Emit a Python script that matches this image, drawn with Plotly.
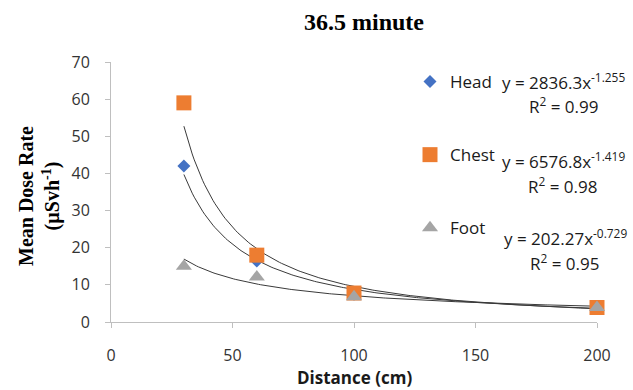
import numpy as np
import plotly.graph_objects as go

# ---- data ----
distance = [30, 60, 100, 200]
head = [42, 16.4, 7.5, 4.0]
chest = [59, 18.0, 7.8, 3.9]
foot = [15, 12.1, 6.8, 3.9]

series_names = ["Head", "Chest", "Foot"]
fit_a = [2836.3, 6576.8, 202.27]
fit_b = [-1.255, -1.419, -0.729]
fit_r2 = ["0.99", "0.98", "0.95"]
fit_a_txt = ["2836.3", "6576.8", "202.27"]
fit_b_txt = ["-1.255", "-1.419", "-0.729"]

x_ticks = [0, 50, 100, 150, 200]
y_ticks = [0, 10, 20, 30, 40, 50, 60, 70]

colors = ["#4472C4", "#ED7D31", "#A5A5A5"]
symbols = ["diamond", "square", "triangle-up"]
sizes = [10, 15, 14]
values = [head, chest, foot]

FONT = "Open Sans"
SERIF = "Liberation Serif"

fig = go.Figure()

# trendlines
xfit = np.linspace(min(distance), max(distance), 200)
for a, b in zip(fit_a, fit_b):
    fig.add_trace(go.Scatter(
        x=xfit, y=a * xfit ** b, mode="lines",
        line=dict(color="#3a3a3a", width=1), showlegend=False, hoverinfo="skip"))

for name, vals, c, s, sz in zip(series_names, values, colors, symbols, sizes):
    fig.add_trace(go.Scatter(
        x=distance, y=vals, mode="markers", name=name, legendgroup=name,
        marker=dict(color=c, symbol=s, size=sz, line=dict(width=0)),
        cliponaxis=False))

W, H = 633, 390
L, R, T, B = 111, 36, 62, 68
pw, ph = W - L - R, H - T - B

def px(xp):
    return (xp - L) / pw

def py(yp):
    return (H - B - yp) / ph

annotations = []
eq_pos = [(563.5, 82, 105), (563, 160, 185), (565, 237, 262)]
for (cx, ey, ry), at, bt, r2 in zip(eq_pos, fit_a_txt, fit_b_txt, fit_r2):
    annotations.append(dict(
        x=px(cx), y=py(ey), xref="paper", yref="paper",
        xanchor="center", yanchor="middle", showarrow=False,
        text=f"y = {at}x<sup>{bt}</sup>",
        font=dict(family=FONT, size=17, color="#1a1a1a")))
    annotations.append(dict(
        x=px(cx), y=py(ry), xref="paper", yref="paper",
        xanchor="center", yanchor="middle", showarrow=False,
        text=f"R<sup>2</sup> = {r2}",
        font=dict(family=FONT, size=17, color="#1a1a1a")))

# y-axis title
annotations.append(dict(
    x=px(39), y=py(196), xref="paper", yref="paper", textangle=-90,
    xanchor="center", yanchor="middle", showarrow=False, align="center",
    text="<b>Mean Dose Rate<br>(µSvh<sup>-1</sup>)</b>",
    font=dict(family=SERIF, size=20, color="black")))
# x-axis title
annotations.append(dict(
    x=px(354), y=py(377), xref="paper", yref="paper",
    xanchor="center", yanchor="middle", showarrow=False,
    text="<b>Distance (cm)</b>",
    font=dict(family=FONT, size=17, color="#1a1a1a")))

fig.update_layout(
    width=W, height=H,
    margin=dict(l=L, r=R, t=T, b=B),
    paper_bgcolor="white", plot_bgcolor="white",
    title=dict(text="<b>36.5 minute</b>", x=364 / W, xref="container",
               y=1 - 22 / H, yref="container", xanchor="center", yanchor="middle",
               font=dict(family=SERIF, size=24, color="black")),
    showlegend=True,
    legend=dict(x=px(410), y=py(64), xanchor="left", yanchor="top",
                bgcolor="rgba(0,0,0,0)", tracegroupgap=48,
                font=dict(family=FONT, size=17, color="#1a1a1a")),
    annotations=annotations,
)

fig.update_xaxes(range=[0, 200], tickvals=x_ticks, showgrid=False, zeroline=False,
                 showline=True, linecolor="#BFBFBF", linewidth=1,
                 ticks="outside", ticklen=5, tickcolor="#BFBFBF",
                 ticklabelstandoff=14,
                 tickfont=dict(family=FONT, size=16, color="#333333"))
fig.update_yaxes(range=[0, 70], tickvals=y_ticks, showgrid=False, zeroline=False,
                 showline=True, linecolor="#BFBFBF", linewidth=1,
                 ticks="outside", ticklen=5, tickcolor="#BFBFBF",
                 ticklabelstandoff=12,
                 tickfont=dict(family=FONT, size=16, color="#333333"))

fig.write_html("out.html")
